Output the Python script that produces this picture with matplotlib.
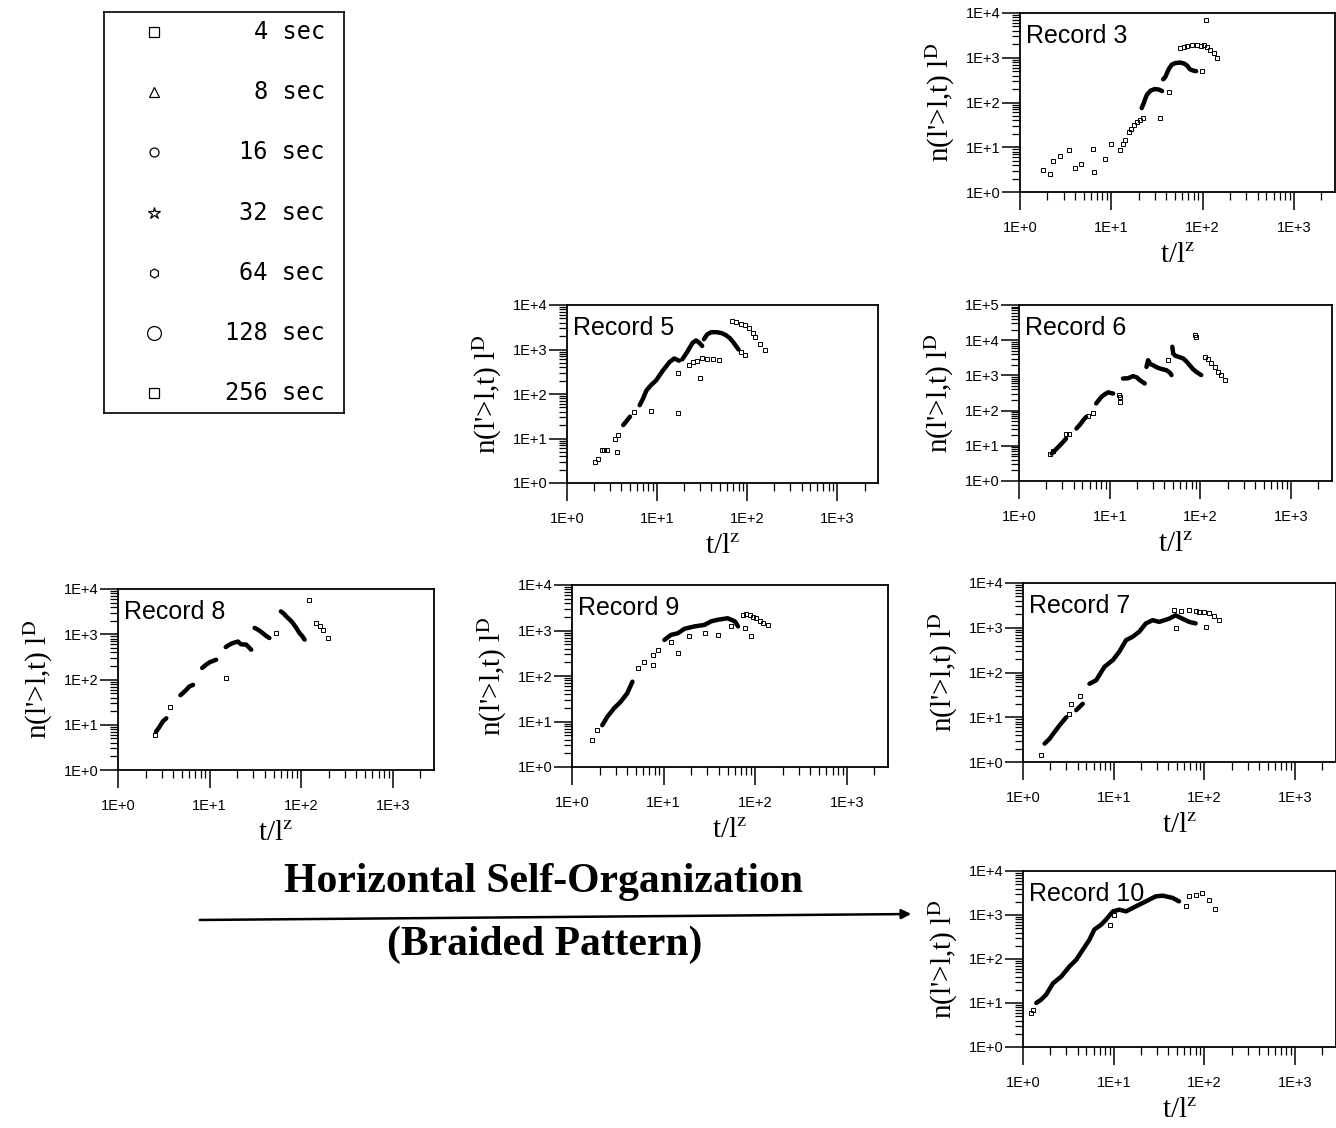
import numpy as np
import matplotlib.pyplot as plt
from matplotlib.ticker import LogLocator, FuncFormatter, NullFormatter
from matplotlib.patches import FancyArrowPatch

plt.rcParams['mathtext.fontset'] = 'stix'

nan = np.nan

# time scales shown in the key box
legend_labels = ['4 sec', '8 sec', '16 sec', '32 sec', '64 sec', '128 sec', '256 sec']
legend_markers = ['s', '^', 'o', '*', 'h', 'o', 's']
legend_sizes = [7, 7, 6.5, 9, 6.5, 10, 7]

# ---- Record 3 ----
rec3_path_t = [21.5, 22.6, 23.5, 24.6, 27, 30, 33, 36, nan,
               37, 39, 41, 43, 46, 50, 57, 63, 68, 72, 78, 85]
rec3_path_n = [75, 95, 120, 150, 185, 200, 195, 180, nan,
               330, 370, 470, 575, 700, 760, 780, 740, 660, 560, 520, 500]
rec3_pts_t = [1.77, 2.14, 2.32, 2.75, 3.4, 4.6, 4.0, 6.4, 6.3, 8.6, 9.9,
              12.6, 13.5, 14.3, 15.5, 16.5, 17.6, 19, 20.5, 22, 34.5, 43,
              57, 62, 68, 77, 87, 95, 103, 112, 122, 133, 145, 108, 99]
rec3_pts_n = [3.06, 2.57, 4.9, 6.4, 8.6, 4.3, 3.4, 2.8, 9.3, 5.4, 11.7,
              8.6, 12, 14.4, 22, 26, 31, 36, 40, 45, 44, 173,
              1620, 1700, 1820, 1900, 1920, 1850, 1920, 1700, 1480, 1250, 1010, 6900, 510]

# ---- Record 5 ----
rec5_path_t = [4.2, 4.6, 5.0, nan,
               6.4, 7.0, 7.6, 8.6, 9.7, 11.5, 13.7, 15.5, 17.5, nan,
               19, 21.7, 24.6, 26.9, 29, 31.6, nan,
               33, 36, 40, 46, 52, 58, 64, 70, 76, 80]
rec5_path_n = [20, 25, 31, nan,
               56, 80, 120, 160, 200, 330, 520, 630, 560, nan,
               600, 900, 1390, 1600, 1450, 1200, nan,
               1700, 2200, 2450, 2450, 2330, 2100, 1800, 1450, 1150, 1000]
rec5_pts_t = [2.05, 2.2, 2.43, 2.6, 2.75, 3.55, 3.7, 3.4, 5.6, 8.6, 16.9,
              16.9, 22.6, 25, 28, 31.6, 36, 42, 48, 30,
              67, 75, 85, 95, 105, 115, 123, 140, 158, 85, 95]
rec5_pts_n = [2.98, 3.5, 5.5, 5.5, 5.5, 5.0, 11.9, 10, 40, 42, 36.5,
              300, 450, 520, 560, 635, 620, 600, 590, 225,
              4270, 4100, 3800, 3600, 3000, 2300, 1950, 1300, 980, 900, 760]

# ---- Record 6 ----
rec6_path_t = [2.3, 2.6, 2.9, 3.3, nan,
               4.3, 4.7, 5.1, 5.5, nan,
               7.1, 7.6, 8.1, 8.8, 9.6, 10.9, nan,
               14, 15.9, 18.1, 20, 21.4, 24.3, nan,
               25.4, 26.5, 28, 30, 33, 35.5, 38, 42, 46, 48, nan,
               49, 50, 53, 57, 64.6, 70, 76, 83, 90, 102]
rec6_path_n = [6, 8.3, 11, 16, nan,
               31, 40, 53, 66, nan,
               160, 200, 245, 290, 330, 305, nan,
               815, 830, 955, 870, 735, 590, nan,
               1740, 2700, 2100, 1950, 1700, 1580, 1500, 1410, 1200, 1020, nan,
               6500, 4200, 3600, 3390, 3020, 2500, 1950, 1500, 1260, 1020]
rec6_pts_t = [2.18, 2.4, 3.3, 3.6, 5.8, 6.5, 12.9, 12.9, 12.5, 44, 87, 89,
              112, 120, 132, 145, 156, 170, 186]
rec6_pts_n = [6.0, 7, 22, 22, 70, 83, 245, 178, 280, 2700, 14000, 12000,
              3390, 2900, 2190, 1700, 1260, 1000, 735]

# ---- Record 8 ----
rec8_path_t = [2.6, 2.85, 3.1, 3.37, nan,
               4.8, 5.1, 5.6, 6.0, 6.6, nan,
               8.3, 9.1, 10, 11.8, nan,
               15, 16.5, 18, 20.4, 22, 25.1, 28.5, nan,
               31, 34, 38, 42, 45, nan,
               60, 64, 69, 75, 81, 88, 96, 103, 109]
rec8_path_n = [7, 9.1, 12, 13.9, nan,
               45, 50, 60, 70, 76, nan,
               180, 210, 240, 274, nan,
               520, 590, 640, 690, 600, 590, 455, nan,
               1380, 1250, 1060, 900, 825, nan,
               3200, 2900, 2460, 2100, 1780, 1400, 1060, 900, 760]
rec8_pts_t = [2.51, 3.66, 15.2, 53, 121, 146, 160, 173, 195]
rec8_pts_n = [6.0, 25, 107, 1050, 5800, 1780, 1500, 1260, 830]

# ---- Record 9 ----
rec9_path_t = [2.14, 2.43, 2.87, 3.39, 4.0, 4.57, nan,
               10.2, 12, 14.3, 16.9, 21.7, 28, 33, 39, 50, 60, 65]
rec9_path_n = [8.3, 12.7, 19.4, 27, 41.5, 75, nan,
               620, 800, 870, 1090, 1230, 1330, 1590, 1720, 1860, 1590, 1230]
rec9_pts_t = [1.66, 1.88, 5.2, 6.1, 7.6, 8.6, 7.6, 14.3, 19, 28, 39, 55, 77, 89,
              74, 80, 87, 95, 103, 112, 122, 138, 12]
rec9_pts_n = [3.9, 6.4, 147, 208, 290, 375, 174, 316, 740, 870, 800, 1230, 1120, 740,
              2220, 2300, 2220, 2000, 1860, 1650, 1450, 1290, 570]

# ---- Record 7 ----
rec7_path_t = [1.73, 1.96, 2.23, 2.53, 3.0, nan,
               3.86, 4.56, nan,
               5.4, 6.4, 7.9, 9.8, 11.5, 13.7, 16.2, 19.1, 22.6, 26.9, 31.6,
               41, 48, 57, 68, 80]
rec7_path_n = [2.57, 3.3, 4.7, 6.6, 10, nan,
               14.4, 20, nan,
               56, 67, 134, 190, 290, 530, 630, 815, 1250, 1480, 1350,
               1600, 1900, 1600, 1350, 1250]
rec7_pts_t = [1.59, 3.4, 3.2, 4.2, 46, 55, 68, 80, 87, 100, 112, 128, 145, 48, 103]
rec7_pts_n = [1.41, 20, 12, 30, 2500, 2400, 2500, 2400, 2280, 2200, 2100, 1800, 1480, 970, 1050]

# ---- Record 10 ----
rec10_path_t = [1.4, 1.59, 1.8, 2.14, 2.64, 3.26, 3.86, 4.57, 5.4, 6.1, 7.25, 8.2,
                9.8, 11.5, 13.7, 17.6, 20.8, 24.6, 29, 34.7, 44.5, 52.5]
rec10_path_n = [10, 12, 15.5, 28, 40, 68, 96, 163, 275, 465, 600, 780,
                1210, 1320, 1210, 1580, 1870, 2230, 2650, 2750, 2450, 2040]
rec10_pts_t = [1.24, 1.3, 62, 68, 80, 95, 112, 132, 9, 10]
rec10_pts_n = [5.9, 7, 1580, 2750, 2880, 3160, 2230, 1380, 600, 1000]

W, H = 1336, 1128
fig = plt.figure(figsize=(W / 100, H / 100), dpi=100)


def box(l, t, r, b):
    return [l / W, 1 - b / H, (r - l) / W, (b - t) / H]


def decade_label(v, pos):
    return '1E+%d' % round(np.log10(v))


def panel(rect, name, path_t, path_n, pts_t, pts_n, ytop=1e4):
    ax = fig.add_axes(box(*rect))
    ax.set_xscale('log')
    ax.set_yscale('log')
    ax.set_xlim(1, 10 ** 3.45)
    ax.set_ylim(1, ytop)
    ax.plot(path_t, path_n, '-', color='k', lw=3.2, solid_capstyle='round')
    ax.plot(pts_t, pts_n, 's', ms=3, mfc='none', mec='k', mew=0.7)

    for axis in (ax.xaxis, ax.yaxis):
        axis.set_major_locator(LogLocator(base=10, numticks=10))
        axis.set_minor_locator(LogLocator(base=10, subs=np.arange(2, 10), numticks=10))
        axis.set_major_formatter(FuncFormatter(decade_label))
        axis.set_minor_formatter(NullFormatter())
    ax.tick_params(which='major', direction='out', length=13, width=1.1,
                   labelsize=10.5)
    ax.tick_params(which='minor', direction='out', length=6, width=0.9)
    ax.tick_params(axis='x', which='major', pad=8)
    ax.tick_params(axis='y', which='major', pad=1)
    for lab in ax.get_xticklabels() + ax.get_yticklabels():
        lab.set_family('Liberation Sans')
    for s in ax.spines.values():
        s.set_linewidth(1.3)

    hpx = rect[3] - rect[1]
    ax.text(0.02, 1 - 23 / hpx, name, transform=ax.transAxes, fontsize=18,
            va='center', ha='left', family='Liberation Sans')
    ax.annotate("n(l'>l,t) l$^{\\mathrm{D}}$", xy=(0, 0.5), xycoords='axes fraction',
                xytext=(-80, 0), textcoords='offset pixels', rotation=90,
                ha='center', va='center', fontsize=21, family='Liberation Serif')
    ax.annotate('t/l$^{\\mathrm{z}}$', xy=(0.5, 0), xycoords='axes fraction',
                xytext=(0, -63), textcoords='offset pixels',
                ha='center', va='center', fontsize=21, family='Liberation Serif')
    return ax


panel((1020, 13, 1335, 192), 'Record 3', rec3_path_t, rec3_path_n, rec3_pts_t, rec3_pts_n)
panel((567, 305, 878, 483), 'Record 5', rec5_path_t, rec5_path_n, rec5_pts_t, rec5_pts_n)
panel((1019, 305, 1332, 481), 'Record 6', rec6_path_t, rec6_path_n, rec6_pts_t, rec6_pts_n, ytop=1e5)
panel((118, 589, 434, 770), 'Record 8', rec8_path_t, rec8_path_n, rec8_pts_t, rec8_pts_n)
panel((572, 585, 888, 767), 'Record 9', rec9_path_t, rec9_path_n, rec9_pts_t, rec9_pts_n)
panel((1023, 583, 1336, 762), 'Record 7', rec7_path_t, rec7_path_n, rec7_pts_t, rec7_pts_n)
panel((1023, 871, 1336, 1047), 'Record 10', rec10_path_t, rec10_path_n, rec10_pts_t, rec10_pts_n)

# key box with the sampling intervals
leg = fig.add_axes(box(104, 12, 344, 413))
leg.set_xlim(0, 1)
leg.set_ylim(1, 0)
leg.set_xticks([])
leg.set_yticks([])
for s in leg.spines.values():
    s.set_linewidth(1.2)
for i, (lab, m, sz) in enumerate(zip(legend_labels, legend_markers, legend_sizes)):
    yy = (20 + i * 60.2) / 401
    leg.plot([0.21], [yy], marker=m, ms=sz, mfc='none', mec='k', mew=0.9)
    leg.text(0.92, yy, lab, ha='right', va='center', fontsize=17,
             family='DejaVu Sans Mono')

fig.text(543 / W, 1 - 882 / H, 'Horizontal Self-Organization', ha='center', va='center',
         fontsize=30, fontweight='bold', family='Liberation Serif')
fig.text(545 / W, 1 - 945 / H, '(Braided Pattern)', ha='center', va='center',
         fontsize=30, fontweight='bold', family='Liberation Serif')
fig.add_artist(FancyArrowPatch((197 / W, 1 - 920 / H), (914 / W, 1 - 914 / H),
                               transform=fig.transFigure, arrowstyle='-|>',
                               mutation_scale=14, lw=1.8, color='k'))

fig.savefig('out.png', dpi=100, facecolor='white')
